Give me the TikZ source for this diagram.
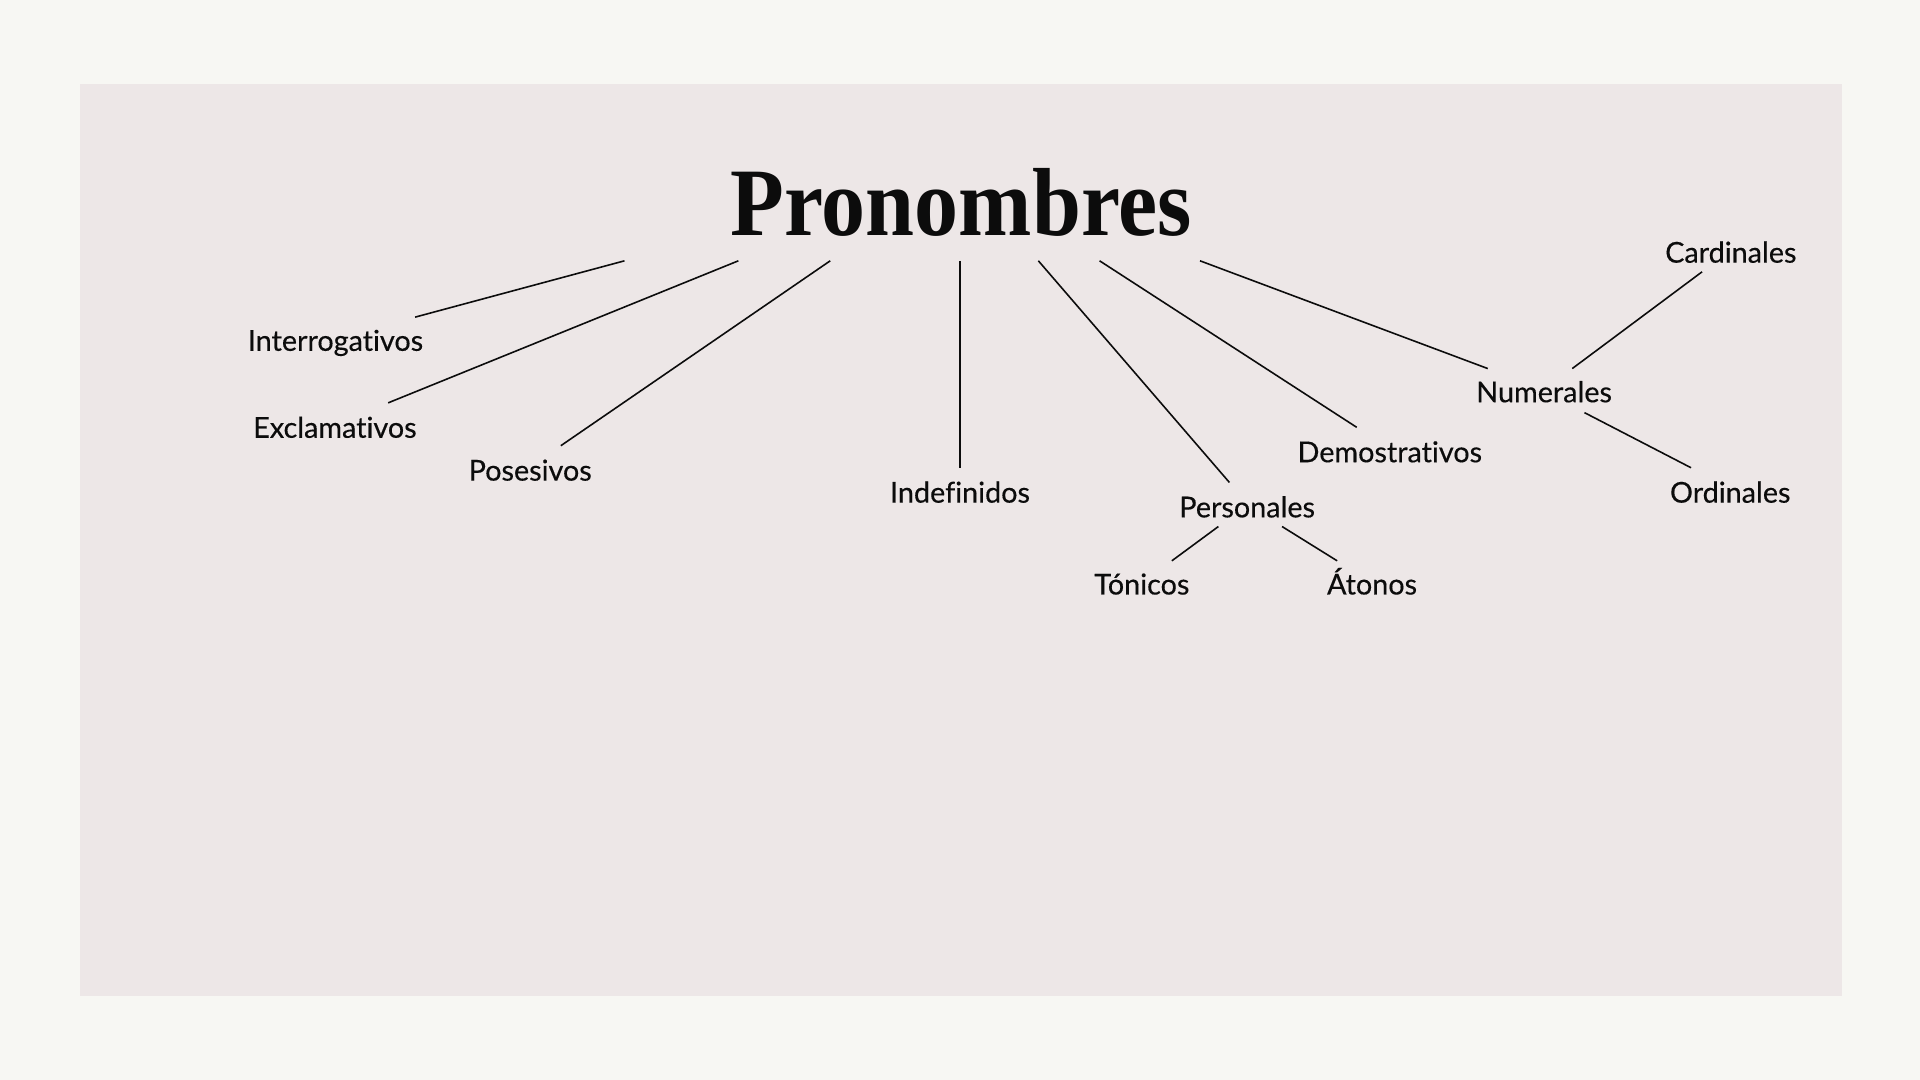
\documentclass[tikz,border=0pt]{standalone}
\usepackage{fontspec}
\setmainfont{Lato}[Ligatures=NoCommon, FakeBold=0.35]
\newfontfamily\titlefont{Liberation Serif}[FakeStretch=0.91]
\usetikzlibrary{calc}
\definecolor{outerbg}{RGB}{247,247,243}
\definecolor{panelbg}{RGB}{237,231,231}
\definecolor{ink}{RGB}{12,12,12}
\tikzset{
  lbl/.style={anchor=base, inner sep=0pt, text=ink, font=\fontsize{23.5}{26}\selectfont},
  ttl/.style={anchor=base, inner sep=0pt, text=ink, font=\titlefont\bfseries\fontsize{79}{80}\selectfont},
  link/.style={draw=ink, line width=1.3pt}
}
\begin{document}
\begin{tikzpicture}[x=1pt,y=-1pt]
\useasboundingbox (0,0) rectangle (1568,882);
\fill[outerbg] (0,0) rectangle (1568,882);
\fill[panelbg] (65,69) rectangle (1504,813);

\node[ttl] (title) at (785,192) {Pronombres};
\node[lbl] (inter) at (274,286.5) {Interrogativos};
\node[lbl] (excl) at (273.5,357.5) {Exclamativos};
\node[lbl] (pos) at (433,392.5) {Posesivos};
\node[lbl] (indef) at (784,410.5) {Indefinidos};
\node[lbl] (pers) at (1018.5,422.5) {Personales};
\node[lbl] (ton) at (932.5,485.5) {Tónicos};
\node[lbl] (aton) at (1120.5,485.5) {Átonos};
\node[lbl] (dem) at (1135,377.5) {Demostrativos};
\node[lbl] (num) at (1261,328.5) {Numerales};
\node[lbl] (card) at (1413.5,214.5) {Cardinales};
\node[lbl] (ord) at (1413,410.5) {Ordinales};

\draw[link] ($(title.base)+(-275,21)$) -- ($(inter.base)+(65,-27.5)$);
\draw[link] ($(title.base)+(-182,21)$) -- ($(excl.base)+(43.5,-28.5)$);
\draw[link] ($(title.base)+(-107,21)$) -- ($(pos.base)+(25,-28.5)$);
\draw[link] ($(title.base)+(-1,21)$) -- ($(indef.base)+(0,-28.5)$);
\draw[link] ($(title.base)+(63,21)$) -- ($(pers.base)+(-14.5,-28.5)$);
\draw[link] ($(title.base)+(113,21)$) -- ($(dem.base)+(-27,-28.5)$);
\draw[link] ($(title.base)+(195,21)$) -- ($(num.base)+(-46,-27.5)$);
\draw[link] ($(num.base)+(23,-27.5)$) -- ($(card.base)+(-23.5,7.5)$);
\draw[link] ($(num.base)+(33,8.5)$) -- ($(ord.base)+(-32,-28.5)$);
\draw[link] ($(pers.base)+(-23.5,7.5)$) -- ($(ton.base)+(24.5,-27.5)$);
\draw[link] ($(pers.base)+(28.5,7.5)$) -- ($(aton.base)+(-28.5,-27.5)$);
\end{tikzpicture}
\end{document}
